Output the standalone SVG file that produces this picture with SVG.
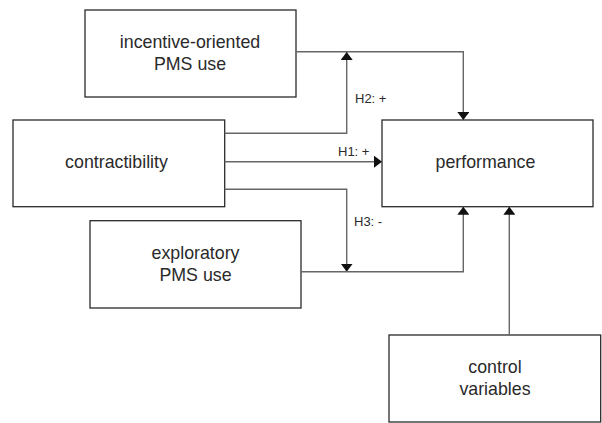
<svg xmlns="http://www.w3.org/2000/svg" width="602" height="423" viewBox="0 0 602 423">
<style>
.box{fill:#fff;stroke:#2a2a2a;stroke-width:1.3}
.t{font-family:"Liberation Sans",Arial,sans-serif;font-size:17.8px;fill:#2a2a2a;text-anchor:middle}
.l{font-family:"Liberation Sans",Arial,sans-serif;font-size:13px;fill:#2a2a2a}
.c{fill:none;stroke:#666;stroke-width:1.4}
</style>
<defs>
<marker id="a" viewBox="0 0 8 12" refX="8" refY="6" markerWidth="8" markerHeight="12" markerUnits="userSpaceOnUse" orient="auto"><path d="M0,0L8,6L0,12Z" fill="#111"/></marker>
</defs>
<g id="n-incentive"><rect class="box" x="85" y="10" width="211" height="87"/><text class="t" x="190" y="48">incentive-oriented</text><text class="t" x="190" y="70">PMS use</text></g>
<g id="n-contract"><rect class="box" x="13" y="120" width="211.7" height="86.7"/><text class="t" x="116.5" y="168">contractibility</text></g>
<g id="n-perf"><rect class="box" x="382" y="120" width="211" height="86.7"/><text class="t" x="485.5" y="168">performance</text></g>
<g id="n-explor"><rect class="box" x="90" y="220.7" width="211" height="87.3"/><text class="t" x="195.5" y="258.5">exploratory</text><text class="t" x="195.5" y="280.5">PMS use</text></g>
<g id="n-control"><rect class="box" x="389" y="335" width="211.7" height="87"/><text class="t" x="495" y="373">control</text><text class="t" x="495" y="395">variables</text></g>
<g id="connectors">
<path class="c" d="M296,51.7H463.3V120" marker-end="url(#a)"/>
<path class="c" d="M224.7,133.3H346.7V52" marker-end="url(#a)"/>
<path class="c" d="M224.7,161.7H382" marker-end="url(#a)"/>
<path class="c" d="M224.7,189.3H346.7V271.7" marker-end="url(#a)"/>
<path class="c" d="M301,271.7H463.3V206.7" marker-end="url(#a)"/>
<path class="c" d="M509.3,335V206.7" marker-end="url(#a)"/>
<text class="l" x="355" y="102.7">H2: +</text>
<text class="l" x="338" y="155.7">H1: +</text>
<text class="l" x="354" y="226">H3: -</text>
</g>
</svg>
